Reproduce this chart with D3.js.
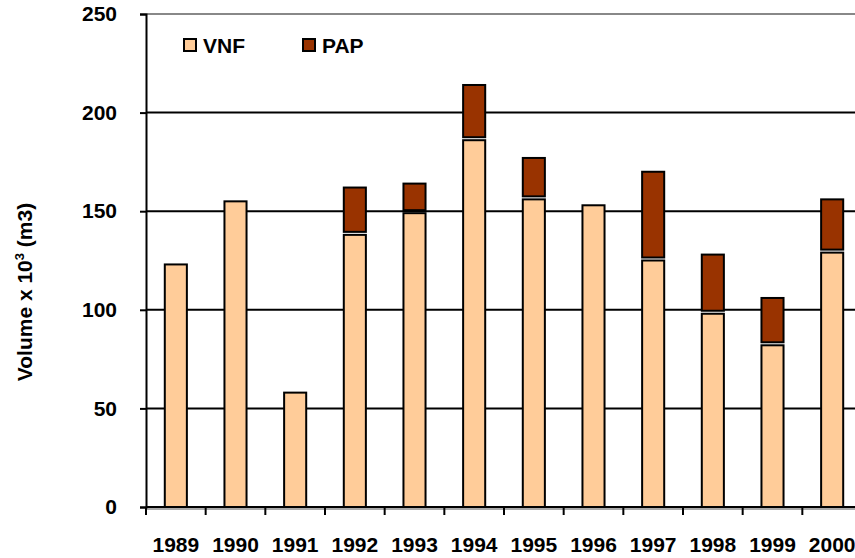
<!DOCTYPE html>
<html>
<head>
<meta charset="utf-8">
<script src="https://cdn.jsdelivr.net/npm/d3@7"></script>
<style>
  body { margin: 0; background: #fff; }
  svg { display: block; font-family: 'Liberation Sans', Arial, sans-serif; }
</style>
</head>
<body>
<svg width="855" height="558"></svg>
<script>
var years = ['1989', '1990', '1991', '1992', '1993', '1994', '1995', '1996', '1997', '1998', '1999', '2000'];
var vnf = [123, 155, 58, 138, 149, 186, 156, 153, 125, 98, 82, 129];
var pap = [0, 0, 0, 24, 15, 28, 21, 0, 45, 30, 24, 27];
var yTicks = [0, 50, 100, 150, 200, 250];

var svg = d3.select('svg');

var x = d3.scaleBand()
  .domain(years)
  .range([146, 862])
  .paddingInner(0.63)
  .paddingOuter(0.315);

var y = d3.scaleLinear().domain([0, 250]).range([507, 14]);

// gridlines
svg.append('g')
  .selectAll('line')
  .data(yTicks.filter(function(d) { return d > 0; }))
  .enter()
  .append('line')
  .attr('x1', 146)
  .attr('x2', 862)
  .attr('y1', function(d) { return y(d); })
  .attr('y2', function(d) { return y(d); })
  .style('stroke', function(d) { return d === 250 ? '#888' : '#000'; })
  .style('stroke-width', 2);

// shadow under x axis
svg.append('line')
  .attr('x1', 146).attr('x2', 862)
  .attr('y1', y(0) + 2).attr('y2', y(0) + 2)
  .style('stroke', '#aaa').style('stroke-width', 2);

var data = years.map(function(d, i) {
  return { year: d, vnf: vnf[i], pap: pap[i] };
});

var bars = svg.append('g');

bars.selectAll('rect.vnf')
  .data(data)
  .enter()
  .append('rect')
  .attr('class', 'vnf')
  .attr('x', function(d) { return x(d.year); })
  .attr('width', x.bandwidth())
  .attr('y', function(d) { return y(d.vnf); })
  .attr('height', function(d) { return y(0) - y(d.vnf); })
  .style('fill', '#FFCC99')
  .style('stroke', '#000')
  .style('stroke-width', 2);

bars.selectAll('rect.pap')
  .data(data.filter(function(d) { return d.pap > 0; }))
  .enter()
  .append('rect')
  .attr('class', 'pap')
  .attr('x', function(d) { return x(d.year); })
  .attr('width', x.bandwidth())
  .attr('y', function(d) { return y(d.vnf + d.pap); })
  .attr('height', function(d) { return y(d.vnf) - y(d.vnf + d.pap) - 3; })
  .style('fill', '#993300')
  .style('stroke', '#000')
  .style('stroke-width', 2);

// y axis
var yAxis = svg.append('g')
  .attr('transform', 'translate(146,0)')
  .call(d3.axisLeft(y).tickValues(yTicks).tickSize(6).tickPadding(23));
yAxis.select('.domain').style('stroke-width', 2);
yAxis.selectAll('.tick line').style('stroke-width', 2);
yAxis.selectAll('text')
  .style('font-size', '21px')
  .style('font-weight', 'bold')
  .style('font-family', "'Liberation Sans', Arial, sans-serif");

// x axis, ticks on band boundaries
var xAxis = svg.append('g').attr('transform', 'translate(0,' + y(0) + ')');
xAxis.append('line')
  .attr('x1', 146).attr('x2', 862)
  .style('stroke', '#000').style('stroke-width', 2);
xAxis.selectAll('line.tk')
  .data(years)
  .enter()
  .append('line')
  .attr('class', 'tk')
  .attr('x1', function(d) { return x(d) - x.step() * x.paddingOuter(); })
  .attr('x2', function(d) { return x(d) - x.step() * x.paddingOuter(); })
  .attr('y1', 0).attr('y2', 8)
  .style('stroke', '#000').style('stroke-width', 2);
xAxis.selectAll('text')
  .data(years)
  .enter()
  .append('text')
  .attr('x', function(d) { return x(d) + x.bandwidth() / 2; })
  .attr('y', 45)
  .attr('text-anchor', 'middle')
  .style('font-size', '21px')
  .style('font-weight', 'bold')
  .text(function(d) { return d; });

// y title
var title = svg.append('text')
  .attr('transform', 'translate(32,292) rotate(-90)')
  .attr('text-anchor', 'middle')
  .style('font-size', '21px')
  .style('font-weight', 'bold');
title.append('tspan').text('Volume x 10');
title.append('tspan').attr('dy', -8).style('font-size', '13px').text('3');
title.append('tspan').attr('dy', 8).text(' (m3)');

// legend
var legend = [
  { name: 'VNF', color: '#FFCC99', x: 184 },
  { name: 'PAP', color: '#993300', x: 303 }
];
var lg = svg.append('g').selectAll('g')
  .data(legend)
  .enter()
  .append('g')
  .attr('transform', function(d) { return 'translate(' + d.x + ',39)'; });
lg.append('rect')
  .attr('width', 12).attr('height', 12)
  .style('fill', function(d) { return d.color; })
  .style('stroke', '#000').style('stroke-width', 2);
lg.append('text')
  .attr('x', 19).attr('y', 14)
  .style('font-size', '21px')
  .style('font-weight', 'bold')
  .text(function(d) { return d.name; });
</script>
</body>
</html>
